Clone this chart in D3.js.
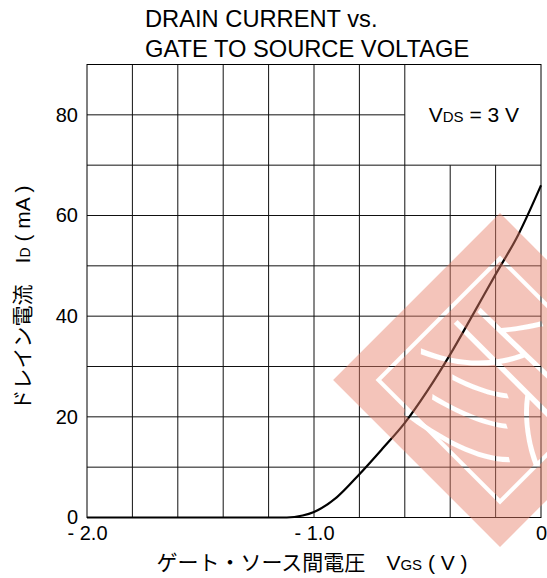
<!DOCTYPE html>
<html><head><meta charset="utf-8">
<script src="https://cdn.jsdelivr.net/npm/d3@7"></script>
<style>
html,body{margin:0;padding:0;background:#fff;}
svg{display:block;}
</style></head>
<body>
<svg id="chart" width="547" height="578"></svg>
<script>
// ---- data ----
const vgs = [-2.0, -1.5, -1.2, -1.12, -1.05, -1.0, -0.9, -0.8, -0.7, -0.6, -0.5, -0.4, -0.3, -0.2, -0.1, 0.0];
const idmA = [0, 0, 0, 0, 0.4, 1.1, 4.0, 8.6, 13.6, 18.8, 25.2, 32.4, 40.3, 48.3, 56.2, 66.0];
const xTickValues = [-2.0, -1.0, 0];
const xTickLabels = ["- 2.0", "- 1.0", "0"];
const yTickValues = [0, 20, 40, 60, 80];
const titleLines = ["DRAIN CURRENT vs.", "GATE TO SOURCE VOLTAGE"];

const FONT = '"Liberation Sans", Arial, sans-serif';
const JFONT = '"Noto Sans CJK JP", sans-serif';
const svg = d3.select("#chart").style("font-family", FONT);
const L = 87, R = 541, T = 64.5, B = 517.5;
const x = d3.scaleLinear().domain([-2, 0]).range([L, R]);
const y = d3.scaleLinear().domain([0, 90]).range([B, T]);

// grid
const grid = svg.append("g").attr("stroke", "#111").attr("stroke-width", 1).attr("fill", "none");
d3.range(-1.8, -0.01, 0.2).forEach(v => {
  const top = (v > -0.55) ? y(70) : T;
  grid.append("line").attr("x1", x(v)).attr("x2", x(v)).attr("y1", B).attr("y2", top);
});
d3.range(10, 90, 10).forEach(i => {
  const right = (i > 70) ? x(-0.6) : R;
  grid.append("line").attr("x1", L).attr("x2", right).attr("y1", y(i)).attr("y2", y(i));
});
grid.append("rect").attr("x", L).attr("y", T).attr("width", R - L).attr("height", B - T).attr("stroke", "#000");

// curve
const line = d3.line().x((d, i) => x(vgs[i])).y((d, i) => y(idmA[i])).curve(d3.curveMonotoneX);
svg.append("path").datum(idmA).attr("d", line).attr("fill", "none").attr("stroke", "#000").attr("stroke-width", 2.2);

// axes labels
const xAxis = d3.axisBottom(x).tickValues(xTickValues).tickFormat((d, i) => xTickLabels[i]).tickSize(0).tickPadding(8);
const gx = svg.append("g").attr("transform", `translate(0,${B})`).call(xAxis);
gx.select(".domain").remove();
gx.selectAll("text").style("font-size", "20px").style("font-family", FONT).style("fill", "#000");

const yAxis = d3.axisLeft(y).tickValues(yTickValues).tickSize(0).tickPadding(9);
const gy = svg.append("g").attr("transform", `translate(${L},0)`).call(yAxis);
gy.select(".domain").remove();
gy.selectAll("text").style("font-size", "20px").style("font-family", FONT).style("fill", "#000");

// title
svg.append("text").attr("x", 145).attr("y", 26.5).style("font-size", "23.7px").text(titleLines[0]);
svg.append("text").attr("x", 145).attr("y", 56.5).style("font-size", "23.7px").text(titleLines[1]);

// VDS label
const vds = svg.append("text").attr("x", (x(-0.6) + R) / 2 + 1).attr("y", 122).attr("text-anchor", "middle").style("font-size", "21px");
vds.append("tspan").text("V");
vds.append("tspan").style("font-size", "15px").text("DS");
vds.append("tspan").text(" = 3 V");

// x title
const xt = svg.append("text").attr("x", 312).attr("y", 570).attr("text-anchor", "middle").style("font-size", "21px");
xt.append("tspan").style("font-family", JFONT).text("ゲート・ソース間電圧");
xt.append("tspan").text("\u2003V");
xt.append("tspan").style("font-size", "15px").text("GS");
xt.append("tspan").text(" ( V )");

// y title
const yt = svg.append("text").attr("transform", "translate(30,298) rotate(-90)").attr("text-anchor", "middle").style("font-size", "21px");
yt.append("tspan").style("font-family", JFONT).text("ドレイン電流");
yt.append("tspan").text("\u2003I");
yt.append("tspan").style("font-size", "14px").text("D");
yt.append("tspan").text(" ( mA )");

// watermark stamp (diamond with knocked-out glyph)
const defs = svg.append("defs");
const mask = defs.append("mask").attr("id", "wm").attr("maskUnits", "userSpaceOnUse")
  .attr("x", 0).attr("y", 0).attr("width", 547).attr("height", 578);
const outerSide = 236, innerSide = 172;
mask.append("path").attr("d", d3.symbol(d3.symbolSquare, outerSide * outerSide)())
  .attr("transform", "translate(500,380) rotate(45)").attr("fill", "#fff");
mask.append("path").attr("d", d3.symbol(d3.symbolSquare, innerSide * innerSide)())
  .attr("transform", "translate(500,380) rotate(45)").attr("fill", "none").attr("stroke", "#000").attr("stroke-width", 4);
mask.append("text").attr("transform", "translate(505,385) rotate(45)")
  .attr("text-anchor", "middle").attr("dominant-baseline", "central")
  .style("font-family", JFONT).style("font-weight", 100).style("font-size", "180px")
  .attr("fill", "#000").text("参");
svg.append("rect").attr("x", 0).attr("y", 0).attr("width", 547).attr("height", 578)
  .attr("fill", "rgb(232,126,104)").attr("fill-opacity", 0.46).attr("mask", "url(#wm)");
</script>
</body></html>
